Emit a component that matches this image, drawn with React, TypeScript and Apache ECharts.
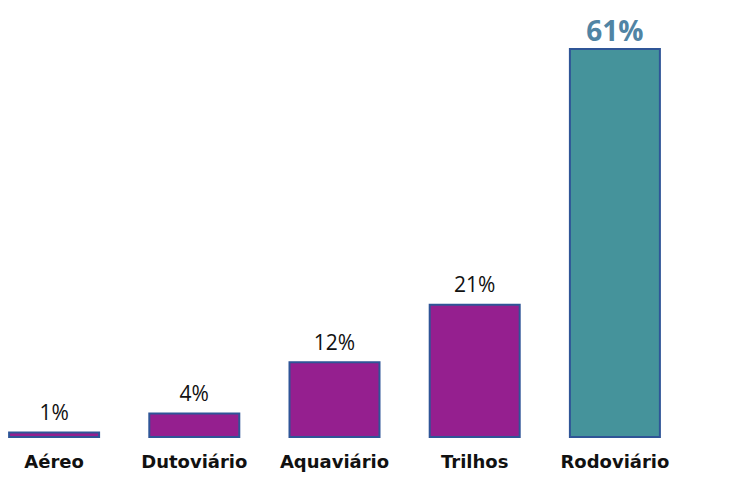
import React, { useEffect, useRef } from "react";
import * as echarts from "echarts";

const categories = ["Aéreo", "Dutoviário", "Aquaviário", "Trilhos", "Rodoviário"];
const values = [1, 4, 12, 21, 61];
const highlightIndex = 4;

export default function App() {
  const ref = useRef<HTMLDivElement>(null);
  useEffect(() => {
    document.body.style.margin = "0";
    document.body.style.overflow = "hidden";
    const chart = echarts.init(ref.current!, null, { renderer: "svg" });
    chart.setOption({
      animation: false,
      backgroundColor: "#ffffff",
      grid: { left: 0, right: 64, top: 48, bottom: 54, containLabel: false },
      xAxis: {
        type: "category",
        data: categories,
        axisLine: { show: false },
        axisTick: { show: false },
        axisLabel: {
          interval: 0,
          hideOverlap: false,
          color: "#111111",
          fontFamily: "DejaVu Sans",
          fontWeight: "bold",
          fontSize: 18,
          margin: 14,
        },
      },
      yAxis: {
        type: "value",
        min: 0,
        max: 61,
        show: false,
        splitLine: { show: false },
      },
      series: [
        {
          type: "bar",
          barWidth: 92,
          data: values.map((v, i) => ({
            value: v,
            itemStyle: {
              color: i === highlightIndex ? "#45939B" : "#951F8F",
              borderColor: "#2F5597",
              borderWidth: 2,
            },
            label:
              i === highlightIndex
                ? { color: "#5084A4", fontSize: 28, fontWeight: "bold", distance: 4 }
                : undefined,
          })),
          label: {
            show: true,
            position: "top",
            formatter: "{c}%",
            color: "#111111",
            fontFamily: "Open Sans",
            fontSize: 21,
            distance: 9,
          },
        },
      ],
    });
    return () => chart.dispose();
  }, []);
  return <div ref={ref} style={{ width: 765, height: 492, marginLeft: -16 }} />;
}
